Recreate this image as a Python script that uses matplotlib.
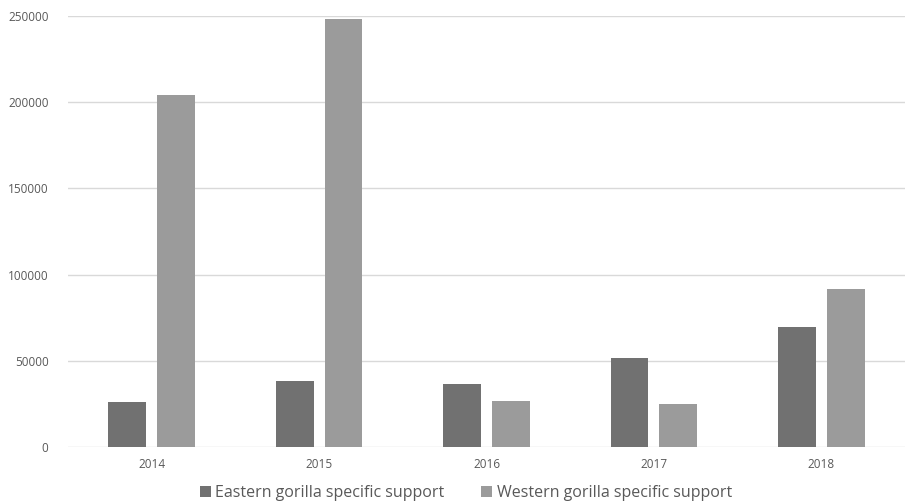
import matplotlib
matplotlib.use("Agg")
import matplotlib.pyplot as plt
import numpy as np

years = ["2014", "2015", "2016", "2017", "2018"]
eastern = [25900, 38300, 36700, 51400, 69400]
western = [204000, 248100, 26700, 24800, 91600]
yticks = [0, 50000, 100000, 150000, 200000, 250000]

plt.rcParams['font.family'] = ['Open Sans', 'DejaVu Sans']
text_color = '#595959'

fig = plt.figure(figsize=(9.14, 5.04), dpi=100)
ax = fig.add_axes([68/914, 57/504, (905-68)/914, (447-16)/504])

x = np.arange(len(years))
bw = 0.226
gap = 0.065
off = (bw + gap) / 2
ax.bar(x - off, eastern, width=bw, color='#717171', label='Eastern gorilla specific support', zorder=3)
ax.bar(x + off, western, width=bw, color='#9b9b9b', label='Western gorilla specific support', zorder=3)

ax.set_xlim(-0.5, len(years) - 0.5)
ax.set_ylim(0, 250000)
ax.set_yticks(yticks)
ax.set_yticklabels([str(v) for v in yticks])
ax.set_xticks(x)
ax.set_xticklabels(years)
ax.yaxis.grid(True, color='#d9d9d9', linewidth=1, zorder=0)
ax.set_axisbelow(True)
for s in ax.spines.values():
    s.set_visible(False)
ax.tick_params(axis='both', length=0, colors=text_color, labelsize=8.5)
ax.tick_params(axis='x', pad=8)
ax.tick_params(axis='y', pad=14)

leg = fig.legend(loc='center', bbox_to_anchor=(466/914, 1 - 493/504), ncol=2, frameon=False,
                 fontsize=11.5, handlelength=0.65, handleheight=0.65, handletextpad=0.3,
                 columnspacing=2.3, labelcolor=text_color)

fig.savefig('out.png', dpi=100)
